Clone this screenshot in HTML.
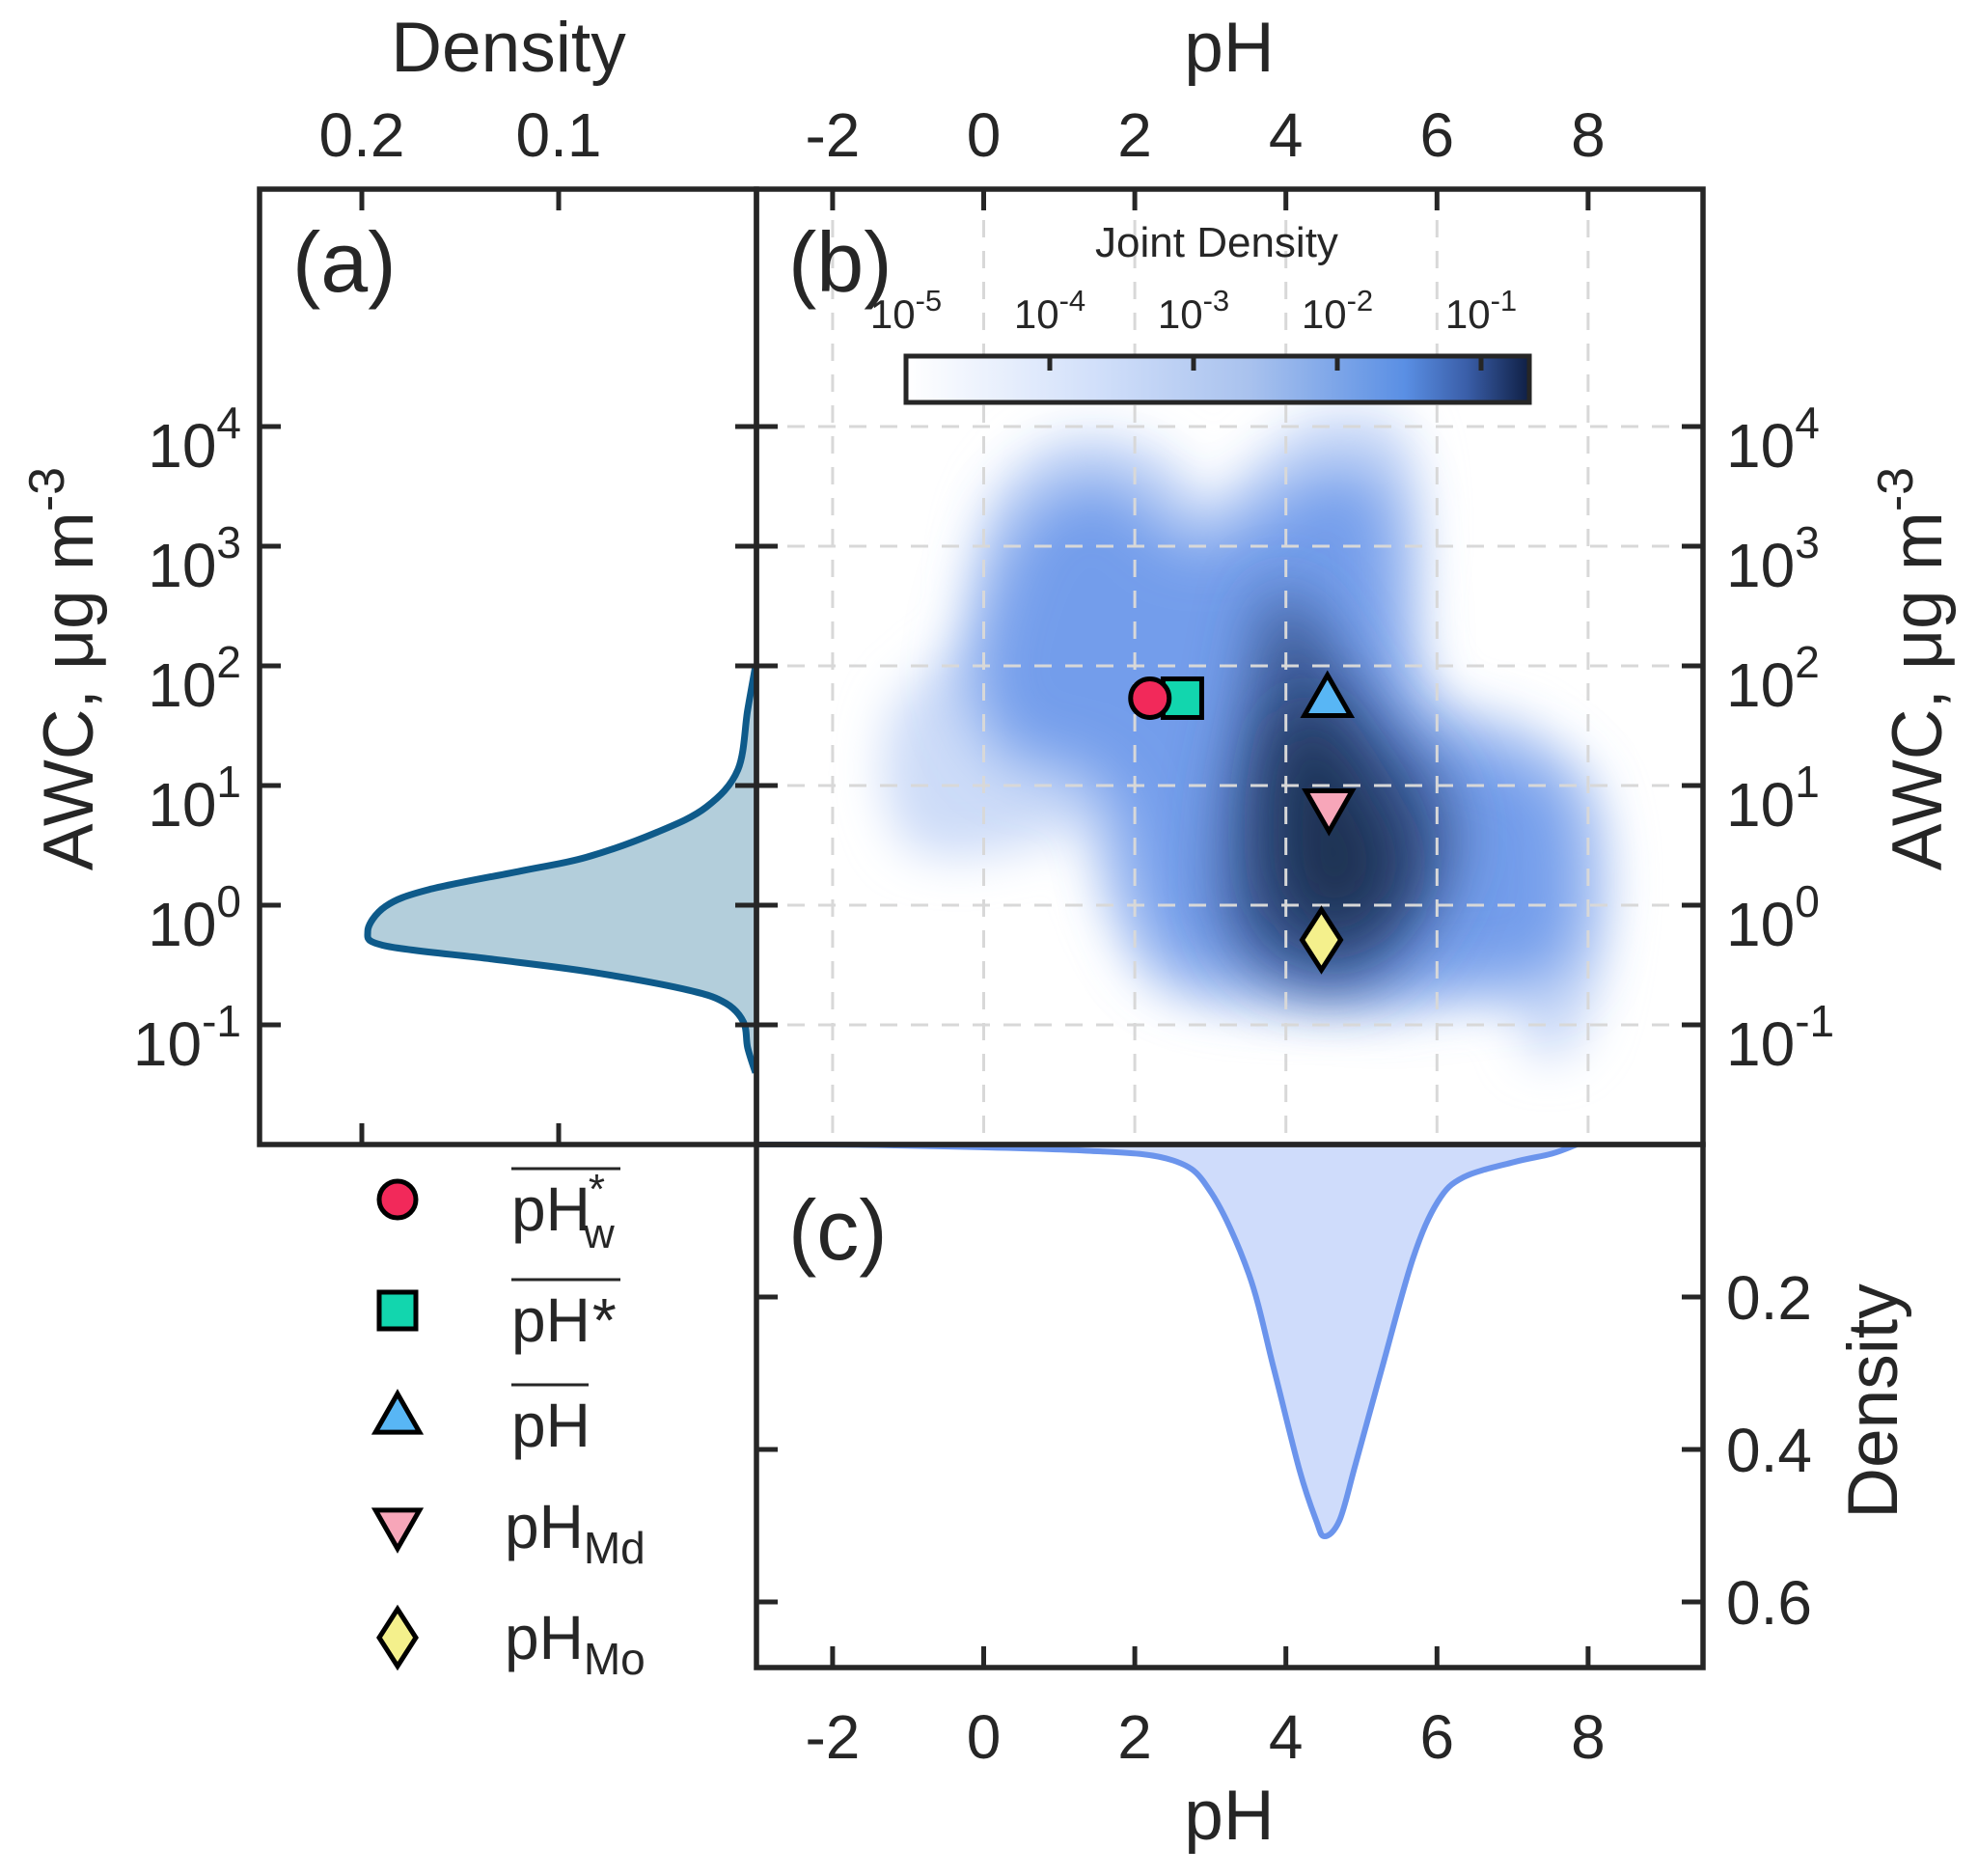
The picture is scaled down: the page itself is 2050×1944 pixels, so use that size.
<!DOCTYPE html>
<html><head><meta charset="utf-8"><style>
html,body{margin:0;padding:0;background:#fff}
svg{display:block;font-family:"Liberation Sans",sans-serif}
</style></head><body>
<svg id="fig" width="2050" height="1944" viewBox="0 0 2050 1944" xmlns="http://www.w3.org/2000/svg">
<defs>
<clipPath id="clipB"><rect x="784" y="196" width="981" height="990"/></clipPath>
<filter id="blur1" filterUnits="userSpaceOnUse" x="600" y="0" width="1400" height="1400"><feGaussianBlur stdDeviation="24"/></filter>
<filter id="blur2" filterUnits="userSpaceOnUse" x="600" y="0" width="1400" height="1400"><feGaussianBlur stdDeviation="32"/></filter>
<linearGradient id="cbar" x1="0" y1="0" x2="1" y2="0">
<stop offset="0" stop-color="#ffffff"/><stop offset="0.3" stop-color="#d2e0fa"/><stop offset="0.55" stop-color="#a9c2ee"/><stop offset="0.8" stop-color="#5a8fe4"/><stop offset="0.9" stop-color="#3a5ea8"/><stop offset="1" stop-color="#0f1f44"/>
</linearGradient>
</defs>
<g id="heat" clip-path="url(#clipB)"></g>
<g id="grid"></g>
<g id="margA"></g>
<g id="margC"></g>
<g id="axes"></g>
<g id="markers"></g>
<g id="legend"></g>
</svg>
<script>
// ---- data ----
const phTicks = [-2, 0, 2, 4, 6, 8];
const awcTicks = [4, 3, 2, 1, 0, -1];
const densATicks = [0.2, 0.1];
const densCTicks = [0.2, 0.4, 0.6];
const densCTickLabels = ["0.2", "0.4", "0.6"];
const cbarTicks = [-5, -4, -3, -2, -1];
// AWC marginal density (log10 AWC, density)
const awcLog = [2.0, 1.63, 1.13, 0.82, 0.61, 0.40, 0.29, 0.13, -0.01, -0.22, -0.34, -0.45, -0.56, -0.71, -0.82, -0.98, -1.19, -1.40];
const awcDens = [0.0, 0.004, 0.009, 0.025, 0.05, 0.086, 0.118, 0.166, 0.188, 0.197, 0.188, 0.134, 0.083, 0.034, 0.015, 0.006, 0.004, 0.0];
// pH marginal density
const phVals = [-3.0, -1.33, 1.34, 2.51, 3.01, 3.51, 3.84, 4.18, 4.40, 4.51, 4.71, 4.92, 5.27, 5.68, 6.01, 6.35, 7.02, 7.52, 7.85];
const phDens = [0.0, 0.001, 0.008, 0.021, 0.063, 0.17, 0.294, 0.427, 0.493, 0.514, 0.493, 0.42, 0.294, 0.15, 0.075, 0.043, 0.023, 0.012, 0.0];
// joint-density contours (pH, log10 AWC)
const outerPH = [-1.33,-1.17,-0.66,-0.16,-0.08,0.17,0.84,1.67,2.51,3.01,3.51,4.34,5.35,5.68,5.76,5.68,5.76,6.18,7.02,7.68,8.10,8.27,8.18,7.93,7.52,7.18,7.02,6.18,5.35,4.68,3.68,2.68,2.01,1.51,1.34,0.67,-0.33,-1.0,-1.25];
const outerL = [1.13,1.66,1.98,2.29,2.93,3.45,3.87,3.93,3.72,3.35,3.66,4.09,4.09,3.77,3.03,2.5,2.08,1.66,1.55,1.24,0.92,0.29,-0.45,-1.08,-1.29,-1.19,-0.87,-0.76,-0.87,-0.87,-0.87,-0.76,-0.45,0.18,0.61,0.5,0.4,0.5,0.82];
const midPH = [-0.16,0.17,0.67,1.67,2.84,3.68,4.68,5.35,5.51,5.68,6.68,7.68,7.93,7.68,6.68,5.35,3.68,2.51,2.01,1.67,1.17,0.34];
const midL = [1.87,2.82,3.35,3.56,3.03,3.35,3.66,3.45,2.61,1.66,1.34,1.03,0.18,-0.55,-0.66,-0.76,-0.66,-0.55,-0.03,0.82,1.13,1.24];
const corePH = [3.84,4.34,4.85,5.35,6.01,6.18,5.68,4.85,3.84,3.26,3.26,3.51];
const coreL = [2.61,2.4,1.87,1.45,1.03,0.4,-0.24,-0.66,-0.55,-0.13,0.82,1.66];
const innerPH = [4.18,5.01,5.51,4.85,4.01,3.84];
const innerL = [1.66,1.03,0.29,-0.24,-0.03,0.82];
// statistic markers
const markerNames = ["ph-w-star-mean","ph-star-mean","ph-mean","ph-median","ph-mode"];
const markerPH = [2.2, 2.63, 4.55, 4.57, 4.47];
const markerL = [1.73, 1.73, 1.73, 0.81, -0.29];

// ---- scales ----
const xPH = p => 1019.5 + 78.3 * p;
const yL = L => 442 + (4 - L) * 124;
const xDA = d => 783 - d * 2040;
const yDC = d => 1186 + d * 790;
const cbX0 = 939, cbX1 = 1585;
const xCB = e => cbX0 + (e + 5) * 149;

const NS = "http://www.w3.org/2000/svg";
function mk(tag, parent, attrs) {
  const el = document.createElementNS(NS, tag);
  for (const k in attrs) el.setAttribute(k, attrs[k]);
  parent.appendChild(el); return el;
}
function smooth(pts) {
  const n = pts.length; let d = `M${pts[0][0]},${pts[0][1]}`;
  for (let i = 0; i < n; i++) {
    const p0 = pts[(i - 1 + n) % n], p1 = pts[i], p2 = pts[(i + 1) % n], p3 = pts[(i + 2) % n];
    const c1 = [p1[0] + (p2[0] - p0[0]) / 6, p1[1] + (p2[1] - p0[1]) / 6];
    const c2 = [p2[0] - (p3[0] - p1[0]) / 6, p2[1] - (p3[1] - p1[1]) / 6];
    d += ` C${c1[0]},${c1[1]} ${c2[0]},${c2[1]} ${p2[0]},${p2[1]}`;
  }
  return d + "Z";
}
function smoothOpen(pts) {
  const n = pts.length; let d = `M${pts[0][0]},${pts[0][1]}`;
  for (let i = 0; i < n - 1; i++) {
    const p0 = pts[Math.max(i - 1, 0)], p1 = pts[i], p2 = pts[i + 1], p3 = pts[Math.min(i + 2, n - 1)];
    const c1 = [p1[0] + (p2[0] - p0[0]) / 6, p1[1] + (p2[1] - p0[1]) / 6];
    const c2 = [p2[0] - (p3[0] - p1[0]) / 6, p2[1] - (p3[1] - p1[1]) / 6];
    d += ` C${c1[0]},${c1[1]} ${c2[0]},${c2[1]} ${p2[0]},${p2[1]}`;
  }
  return d;
}
const heat = document.getElementById('heat');
[[outerPH, outerL, '#cddcf8', 'blur1', 'contour-outer'],
 [midPH, midL, '#739deb', 'blur2', 'contour-mid'],
 [corePH, coreL, '#39558f', 'blur2', 'contour-core'],
 [innerPH, innerL, '#1d3053', 'blur2', 'contour-inner']].forEach(c => {
  const pts = c[0].map((p, i) => [xPH(p), yL(c[1][i])]);
  const el = mk('path', heat, {d: smooth(pts), fill: c[2], filter: `url(#${c[3]})`});
  
  
});

// grid
const grid = document.getElementById('grid');
phTicks.forEach(p => {
  const el = mk('line', grid, {x1: xPH(p), x2: xPH(p), y1: 196, y2: 1186, stroke: '#d8d8d8', 'stroke-width': 3, 'stroke-dasharray': '18 14'});
  
  
});
awcTicks.forEach(L => {
  const el = mk('line', grid, {x1: 784, x2: 1765, y1: yL(L), y2: yL(L), stroke: '#d8d8d8', 'stroke-width': 3, 'stroke-dasharray': '18 14'});
  
  
});

// marginal A
const mA = document.getElementById('margA');
let dA = smoothOpen(awcLog.map((L, i) => [xDA(awcDens[i]), yL(L)]));
const fa = mk('path', mA, {d: dA + ' Z', fill: '#b3cedb', stroke: 'none'});


const la = mk('path', mA, {d: dA, fill: 'none', stroke: '#0e5a8a', 'stroke-width': 7, 'stroke-linejoin': 'round'});



// marginal C
const mC = document.getElementById('margC');
let dC = smoothOpen(phVals.map((p, i) => [xPH(p), yDC(phDens[i])]));
const fc = mk('path', mC, {d: dC + ' Z', fill: '#cfdcfb', stroke: 'none'});


const lc = mk('path', mC, {d: dC, fill: 'none', stroke: '#6b94ec', 'stroke-width': 6, 'stroke-linejoin': 'round'});



// axes
const ax = document.getElementById('axes');
const TC = '#262626', FS = 64, TS = 73;
function txt(parent, x, y, anchor, size, content, name, rot) {
  const t = mk('text', parent, {x, y, 'text-anchor': anchor, 'font-size': size, fill: TC});
  if (rot) t.setAttribute('transform', `rotate(-90 ${x} ${y})`);
  t.innerHTML = content;
  
  
  return t;
}
function tick(x1, y1, x2, y2, name) {
  const el = mk('line', ax, {x1, y1, x2, y2, stroke: TC, 'stroke-width': 5});
  
  
}
[[269, 196, 515, 990, 'panel-a-frame'], [784, 196, 981, 990, 'panel-b-frame'], [784, 1186, 981, 542, 'panel-c-frame']].forEach(r => {
  const el = mk('rect', ax, {x: r[0], y: r[1], width: r[2], height: r[3], fill: 'none', stroke: TC, 'stroke-width': 5.5});
  
  
});
phTicks.forEach(p => {
  const x = xPH(p);
  tick(x, 196, x, 218, 'ph-tick-top');
  tick(x, 1728, x, 1706, 'ph-tick-bottom');
  txt(ax, x, 162, 'middle', FS, String(p), 'ph-tick-label-top');
  txt(ax, x, 1822, 'middle', FS, String(p), 'ph-tick-label-bottom');
});
txt(ax, xPH(3.25), 74, 'middle', TS, 'pH', 'top-x-axis-title');
txt(ax, xPH(3.25), 1906, 'middle', TS, 'pH', 'bottom-x-axis-title');
densATicks.forEach(d => {
  const x = xDA(d);
  tick(x, 196, x, 218, 'density-a-tick-top');
  tick(x, 1186, x, 1164, 'density-a-tick-bottom');
  txt(ax, x, 162, 'middle', FS, String(d), 'density-a-tick-label');
});
txt(ax, 527, 74, 'middle', TS, 'Density', 'density-a-axis-title');
awcTicks.forEach(L => {
  const y = yL(L);
  tick(269, y, 291, y, 'awc-tick-a-left');
  tick(762, y, 806, y, 'awc-tick-middle');
  tick(1765, y, 1743, y, 'awc-tick-b-right');
  txt(ax, 250, y + 42, 'end', FS, `10<tspan dy="-30" font-size="46">${L}</tspan>`, 'awc-tick-label-left');
  txt(ax, 1789, y + 42, 'start', FS, `10<tspan dy="-30" font-size="46">${L}</tspan>`, 'awc-tick-label-right');
});
txt(ax, 96, 693, 'middle', TS, 'AWC, μg m<tspan dy="-30" font-size="52">-3</tspan>', 'left-y-axis-title', true);
txt(ax, 2012, 693, 'middle', TS, 'AWC, μg m<tspan dy="-30" font-size="52">-3</tspan>', 'right-y-axis-title', true);
densCTicks.forEach((d, i) => {
  const y = yDC(d);
  tick(784, y, 806, y, 'density-c-tick-left');
  tick(1765, y, 1743, y, 'density-c-tick-right');
  txt(ax, 1789, y + 23, 'start', FS, densCTickLabels[i], 'density-c-tick-label');
});
txt(ax, 1966, 1452, 'middle', TS, 'Density', 'density-c-axis-title', true);
txt(ax, 303, 302, 'start', 88, '(a)', 'panel-label-a');
txt(ax, 817, 302, 'start', 88, '(b)', 'panel-label-b');
txt(ax, 817, 1305, 'start', 88, '(c)', 'panel-label-c');
const cb = mk('rect', ax, {x: cbX0, y: 369, width: cbX1 - cbX0, height: 48, fill: 'url(#cbar)', stroke: TC, 'stroke-width': 5});


cbarTicks.forEach(e => {
  const x = xCB(e);
  if (e > -5) tick(x, 369, x, 384, 'colorbar-tick');
  txt(ax, x, 340, 'middle', 42, `10<tspan dy="-18" font-size="31">${e}</tspan>`, 'colorbar-tick-label');
});
txt(ax, 1261, 266, 'middle', 44, 'Joint Density', 'colorbar-title');

const mg = document.getElementById('markers');
function marker(parent, k, cx, cy, s) {
  let el;
  if (k === 0) el = mk('circle', parent, {cx, cy, r: s * 0.5, fill: '#f2295a'});
  else if (k === 1) el = mk('rect', parent, {x: cx - s * 0.5, y: cy - s * 0.5, width: s, height: s, fill: '#12d6ae'});
  else if (k === 2) el = mk('polygon', parent, {points: `${cx},${cy - s * 0.6} ${cx + s * 0.6},${cy + s * 0.45} ${cx - s * 0.6},${cy + s * 0.45}`, fill: '#58b6f5'});
  else if (k === 3) el = mk('polygon', parent, {points: `${cx},${cy + s * 0.6} ${cx + s * 0.6},${cy - s * 0.45} ${cx - s * 0.6},${cy - s * 0.45}`, fill: '#f7a6b9'});
  else el = mk('polygon', parent, {points: `${cx},${cy - s * 0.78} ${cx + s * 0.5},${cy} ${cx},${cy + s * 0.78} ${cx - s * 0.5},${cy}`, fill: '#f4f08c'});
  el.setAttribute('stroke', '#000'); el.setAttribute('stroke-width', 5);
  return el;
}
[1, 0, 2, 3, 4].forEach(i => {
  const el = marker(mg, i, xPH(markerPH[i]), yL(markerL[i]), 40);
  
  
});

const lg = document.getElementById('legend');
const legY = [1243, 1358, 1467, 1582, 1697];
const legLabels = [
  'pH<tspan font-size="44" dx="-2" dy="-28">*</tspan><tspan font-size="44" dx="-22" dy="46">w</tspan>',
  'pH<tspan dx="2">*</tspan>',
  'pH',
  'pH<tspan font-size="46" dy="16">Md</tspan>',
  'pH<tspan font-size="46" dy="16">Mo</tspan>'];
const legOver = [[530, 643], [530, 643], [530, 610], null, null];
[0, 1, 2, 3, 4].forEach(i => {
  const y = legY[i];
  const m = marker(lg, i, 412, y, 38);
  
  
  const x0 = i >= 3 ? 523 : 530;
  const by = i >= 3 ? y + 22 : y + 32;
  txt(lg, x0, by, 'start', FS, legLabels[i], 'legend-label-' + markerNames[i]);
  if (legOver[i]) {
    const ol = mk('line', lg, {x1: legOver[i][0], x2: legOver[i][1], y1: by - 64, y2: by - 64, stroke: TC, 'stroke-width': 3});
    
    
  }
});
</script>
</body></html>
